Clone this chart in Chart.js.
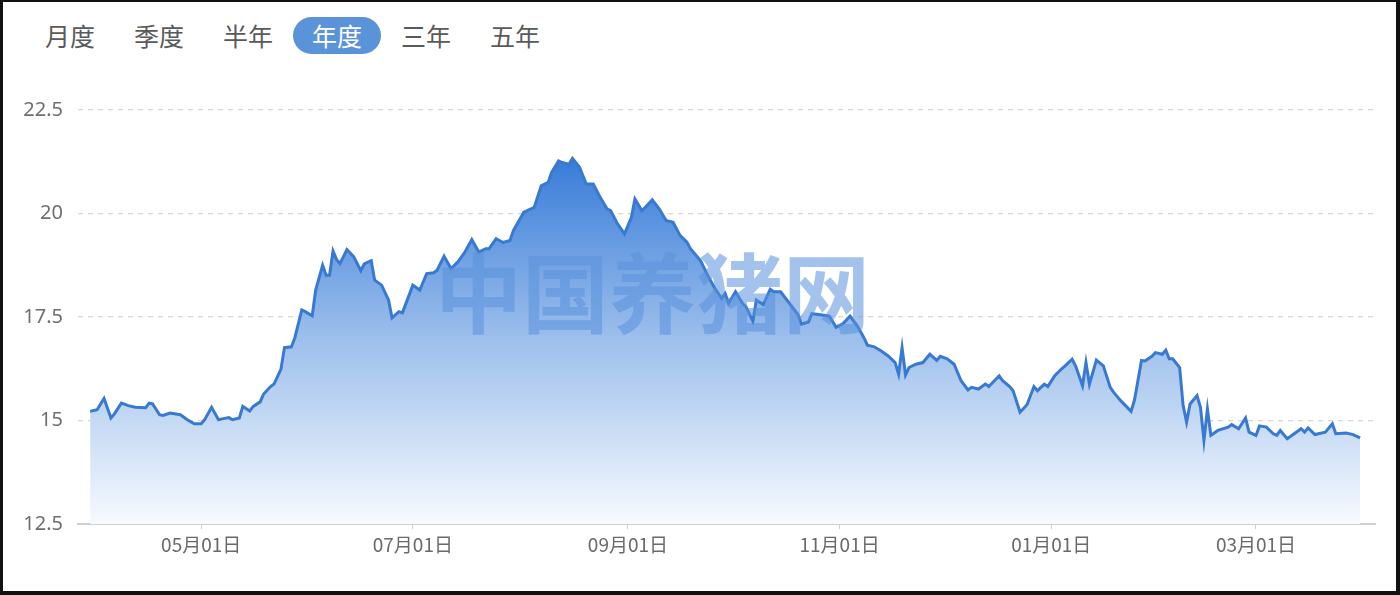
<!DOCTYPE html>
<html>
<head>
<meta charset="utf-8">
<script src="https://cdn.jsdelivr.net/npm/chart.js"></script>
<style>
  body { margin: 0; background: #fff; }
  #wrap { position: relative; width: 1400px; height: 595px; overflow: hidden; background: #fff; }
  #frame { position: absolute; left: 0; top: 0; width: 1400px; height: 595px; box-sizing: border-box;
           border-style: solid; border-color: #111; border-width: 2px 4px 4px 3px; pointer-events: none; z-index: 5; }
  #tabs span { position: absolute; top: 17px; width: 88px; height: 37px; line-height: 37px; text-align: center;
               font-family: "Noto Sans CJK SC", sans-serif; font-size: 25px; color: #5a5a5a; }
  #tabs span.on { background: #5b93d8; color: #fff; border-radius: 19px; }
  #chart-box { position: absolute; left: 0; top: 0; width: 1400px; height: 595px; }
  #mark { position: absolute; left: 435px; top: 246px; font-family: "Noto Sans CJK SC", sans-serif;
          font-weight: 700; font-size: 87px; line-height: 1; color: rgba(90,145,220,0.55);
          white-space: nowrap; pointer-events: none; z-index: 3; }
</style>
</head>
<body>
<div id="wrap">
  <div id="tabs"></div>
  <div id="chart-box"><canvas id="chart"></canvas></div>
  <div id="mark">中国养猪网</div>
  <div id="frame"></div>
</div>
<script>
// tab labels across the top, 年度 is the active one
let tabNames = ["月度", "季度", "半年", "年度", "三年", "五年"];
let activeTab = "年度";

// daily pig price, day 0 = 2024-03-30
let days = [0, 2, 4, 6, 7, 9, 11, 13, 16, 17, 18, 20, 21, 23, 26, 28, 30, 32, 33, 35, 37, 38, 40, 41, 43, 44, 46, 47, 49, 50,
  52, 53, 55, 56, 58, 59, 61, 62, 64, 65, 67, 68, 69, 70, 71, 72, 74, 76, 78, 79, 81, 82, 84, 86, 87, 89, 90, 93, 95, 97,
  99, 100, 102, 104, 106, 108, 110, 112, 114, 115, 117, 119, 121, 122, 125, 128, 130, 132, 133, 135, 136, 138, 139, 141, 143, 145, 147, 149, 150, 152,
  154, 156, 157, 159, 160, 162, 164, 166, 168, 170, 172, 173, 176, 178, 180, 182, 183, 184, 186, 188, 189, 191, 192, 194, 196, 197, 199, 202, 204, 205,
  207, 208, 211, 213, 215, 217, 219, 221, 223, 224, 226, 228, 230, 232, 233, 234, 235, 236, 238, 240, 242, 244, 245, 247, 249, 251, 253, 254, 256, 258,
  259, 262, 263, 265, 266, 268, 270, 272, 273, 275, 276, 278, 280, 281, 283, 284, 286, 287, 288, 290, 292, 294, 295, 297, 300, 301, 303, 304, 306, 307,
  309, 310, 311, 312, 314, 315, 316, 317, 319, 320, 321, 322, 323, 325, 328, 329, 331, 333, 334, 336, 337, 339, 341, 342, 343, 345, 347, 349, 350, 351,
  353, 356, 358, 359, 362, 364, 366];
let prices = [15.22, 15.26, 15.53, 15.06, 15.16, 15.42, 15.36, 15.32, 15.31, 15.42, 15.40, 15.14, 15.12, 15.18, 15.14, 15.02, 14.92, 14.92, 15.02, 15.32, 15.02, 15.04, 15.07, 15.02, 15.06, 15.34, 15.23, 15.34, 15.45, 15.64,
  15.82, 15.88, 16.24, 16.76, 16.78, 17.0, 17.67, 17.63, 17.53, 18.15, 18.75, 18.51, 18.51, 19.09, 18.89, 18.79, 19.13, 18.95, 18.62, 18.78, 18.86, 18.39, 18.27, 17.91, 17.48, 17.63, 17.6, 18.27, 18.15, 18.55,
  18.57, 18.63, 18.97, 18.67, 18.83, 19.07, 19.37, 19.07, 19.15, 19.15, 19.39, 19.3, 19.35, 19.59, 20.03, 20.15, 20.67, 20.75, 20.99, 21.27, 21.23, 21.19, 21.33, 21.12, 20.71, 20.71, 20.39, 20.11, 20.07, 19.75,
  19.51, 19.91, 20.35, 20.07, 20.15, 20.33, 20.11, 19.83, 19.79, 19.47, 19.31, 19.15, 18.85, 18.5, 18.2, 17.95, 18.07, 17.83, 18.11, 17.83, 17.75, 17.4, 17.91, 17.8, 18.17, 18.11, 18.11, 17.78, 17.56, 17.33,
  17.38, 17.58, 17.55, 17.52, 17.25, 17.34, 17.52, 17.3, 17.0, 16.82, 16.78, 16.68, 16.56, 16.4, 16.12, 16.76, 16.1, 16.28, 16.36, 16.4, 16.6, 16.45, 16.55, 16.49, 16.36, 15.96, 15.74, 15.8, 15.76, 15.88,
  15.82, 16.08, 15.96, 15.82, 15.72, 15.2, 15.38, 15.82, 15.72, 15.88, 15.82, 16.08, 16.25, 16.32, 16.48, 16.32, 15.84, 16.4, 15.88, 16.46, 16.32, 15.8, 15.68, 15.48, 15.22, 15.5, 16.45, 16.44, 16.55, 16.64,
  16.6, 16.7, 16.49, 16.49, 16.28, 15.36, 14.96, 15.4, 15.6, 15.32, 14.52, 15.28, 14.64, 14.76, 14.84, 14.9, 14.8, 15.06, 14.72, 14.64, 14.87, 14.84, 14.68, 14.64, 14.76, 14.56, 14.68, 14.8, 14.72, 14.82,
  14.66, 14.72, 14.92, 14.68, 14.7, 14.66, 14.58];

// x ticks: first day of every other month
let tickDays = [32, 93, 155, 216, 277, 336];
let tickLabels = ["05月01日", "07月01日", "09月01日", "11月01日", "01月01日", "03月01日"];
let yTicks = [12.5, 15, 17.5, 20, 22.5];

// tabs
let tabs = document.getElementById("tabs");
tabNames.forEach((name, i) => {
  let s = document.createElement("span");
  s.textContent = name;
  s.style.left = (26 + i * 89) + "px";
  if (name == activeTab) s.className = "on";
  tabs.appendChild(s);
});

let points = days.map((d, i) => ({ x: d, y: prices[i] }));

function areaFill(context) {
  let chart = context.chart;
  let area = chart.chartArea;
  if (!area) return "rgba(90,145,220,0.5)";
  let top = chart.scales.y.getPixelForValue(Math.max(...prices));
  let g = chart.ctx.createLinearGradient(0, top, 0, area.bottom);
  g.addColorStop(0, "rgb(56,124,216)");
  g.addColorStop(0.5, "rgb(158,192,236)");
  g.addColorStop(1, "rgb(247,250,254)");
  return g;
}

new Chart("chart", {
  type: "line",
  data: {
    datasets: [
      {
        data: points,
        borderColor: "rgb(56,121,210)",
        borderWidth: 3,
        backgroundColor: areaFill,
        fill: "start",
        pointRadius: 0,
        tension: 0,
      },
    ],
  },
  options: {
    responsive: true,
    maintainAspectRatio: false,
    animation: false,
    layout: { padding: { top: 110, right: 25, left: 0, bottom: 0 } },
    plugins: { legend: { display: false }, tooltip: { enabled: false } },
    scales: {
      x: {
        type: "linear",
        min: -3.5,
        max: 370.3,
        afterFit: (s) => { s.height = 71; },
        afterBuildTicks: (s) => { s.ticks = tickDays.map((v) => ({ value: v })); },
        border: { display: true, color: "#cfcfcf", width: 2 },
        grid: { display: true, drawOnChartArea: false, tickLength: 5, color: "#cfcfcf" },
        ticks: {
          autoSkip: false,
          maxRotation: 0,
          padding: 4,
          color: "#6a6a6a",
          font: { family: "'Noto Sans CJK SC', sans-serif", size: 19 },
          callback: (v) => tickLabels[tickDays.indexOf(v)],
        },
      },
      y: {
        min: 12.5,
        max: 22.5,
        afterFit: (s) => { s.width = 78; },
        afterBuildTicks: (s) => { s.ticks = yTicks.map((v) => ({ value: v })); },
        border: { display: false, dash: [5, 5] },
        grid: { color: "#d6d6d6", lineWidth: 1.3, drawTicks: false },
        ticks: {
          padding: 15,
          color: "#6f6f6f",
          font: { family: "'Noto Sans', sans-serif", size: 20 },
          callback: (v) => String(v),
        },
      },
    },
  },
});
</script>
</body>
</html>
